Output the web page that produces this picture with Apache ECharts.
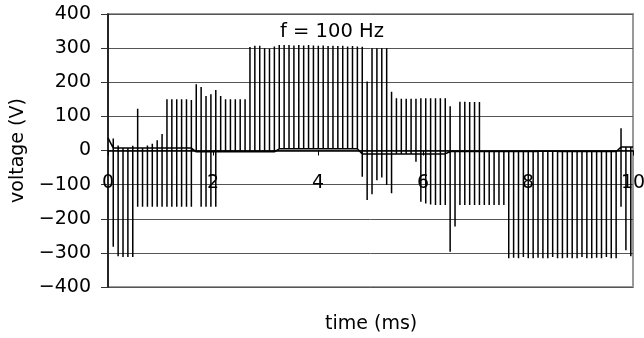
<!DOCTYPE html>
<html>
<head>
<meta charset="utf-8">
<script src="https://cdn.jsdelivr.net/npm/echarts@6/dist/echarts.min.js"></script>
<style>
  html, body { margin: 0; padding: 0; background: #ffffff; }
  #chart { width: 644px; height: 338px; }
</style>
</head>
<body>
<div id="chart"></div>
<script>
// switching pulses (ms / V)
const firstPulse = 0.1;
const pulseStep = 0.093;
const startLevel = 37;

const hiPeaks = [
  35, 15, 12, 10, 14, 122, 12, 15, 20, 30,
  48, 150, 150, 150, 150, 150, 148, 194, 186, 160,
  165, 177, 160, 150, 150, 150, 150, 150, 303, 307,
  307, 300, 298, 305, 309, 309, 309, 308, 309, 308,
  309, 308, 307, 308, 306, 307, 306, 307, 305, 306,
  305, 304, 202, 300, 300, 300, 300, 172, 153, 152,
  152, 152, 152, 153, 153, 153, 153, 153, 153, 130,
  0, 143, 143, 142, 142, 142, 0, 0, 0, 0,
  0, 0, 0, 0, 0, 0, 0, 0, 0, 0,
  0, 0, 0, 0, 0, 0, 0, 0, 0, 0,
  0, 0, 0, 0, 65, 0, 10
];

const loPeaks = [
  -282, -310, -312, -312, -312, -165, -165, -165, -165, -165,
  -165, -165, -165, -165, -165, -165, -165, 0, -165, -165,
  -165, -165, 0, 0, 0, 0, 0, 0, 0, 0,
  0, 0, 0, 0, 0, 0, 0, 0, 0, 0,
  0, 0, 0, 0, 0, 0, 0, 0, 0, 0,
  0, -77, -145, -128, -87, -79, -101, -125, 0, 0,
  0, 0, -33, -150, -155, -158, -160, -160, -160, -297,
  -223, -160, -160, -160, -160, -160, -160, -160, -160, -160,
  -160, -316, -314, -316, -312, -316, -316, -314, -316, -316,
  -312, -316, -316, -314, -316, -316, -312, -316, -316, -314,
  -316, -312, -316, -316, -165, -292, -310
];

const baseLevels = [
  7, 7, 7, 7, 7, 7, 7, 7, 7, 7,
  7, 7, 7, 7, 7, 7, 7, -4, -4, -4,
  -4, -4, -4, -4, -4, -4, -4, -4, -4, -4,
  -4, -4, -4, -4, 5, 5, 5, 5, 5, 5,
  5, 5, 5, 5, 5, 5, 5, 5, 5, 5,
  5, -10, -10, -10, -10, -10, -10, -10, -10, -10,
  -10, -10, -10, -10, -10, -10, -10, -10, -10, -3,
  -3, -3, -3, -3, -3, -3, -3, -3, -3, -3,
  -3, -3, -3, -3, -3, -3, -3, -2, -2, -2,
  -2, -2, -3, -3, -3, -3, -3, -3, -3, -3,
  -3, -3, -3, -3, 10, 10, 10
];

const xTicks = { min: 0, max: 10, step: 2 };
const yTicks = { min: -400, max: 400, step: 100 };

const trace = [[0, startLevel]];
hiPeaks.forEach((hi, k) => {
  const t = firstPulse + k * pulseStep;
  const base = baseLevels[k];
  trace.push([t, base]);
  if (hi) trace.push([t, hi]);
  if (loPeaks[k]) trace.push([t, loPeaks[k]]);
  trace.push([t, base]);
});
trace.push([xTicks.max, baseLevels[baseLevels.length - 1]]);

const font = "DejaVu Sans";
const gridTop = 14;
const gridBottom = 51;
const plotHeight = 338 - gridTop - gridBottom;
const chart = echarts.init(document.getElementById("chart"));
const options = {
  animation: false,
  title: {
    text: "f = 100 Hz",
    left: 275,
    top: 17,
    textStyle: { fontFamily: font, fontSize: 19.5, fontWeight: "normal", color: "#000" },
  },
  grid: {
    left: 108,
    right: 11,
    top: gridTop,
    bottom: gridBottom,
    outerBoundsMode: "none",
    containLabel: false,
    show: true,
    borderColor: "#999999",
    borderWidth: 2,
  },
  graphic: [
    {
      type: "text",
      left: 325,
      top: 315,
      style: { text: "time (ms)", font: "19px " + font, fill: "#000" },
    },
  ],
  xAxis: {
    type: "value",
    min: xTicks.min,
    max: xTicks.max,
    interval: xTicks.step,
    // axis drawn through the 0 V line
    offset: -plotHeight * (0 - yTicks.min) / (yTicks.max - yTicks.min),
    axisLine: { onZero: false, lineStyle: { color: "#000", width: 1.5 } },
    axisTick: { length: 5, lineStyle: { color: "#000" } },
    axisLabel: { margin: 23, fontFamily: font, fontSize: 19, color: "#000", showMinLabel: true, showMaxLabel: true },
    splitLine: { show: false },
    z: 1,
  },
  yAxis: {
    type: "value",
    min: yTicks.min,
    max: yTicks.max,
    interval: yTicks.step,
    name: "voltage (V)",
    nameLocation: "middle",
    nameGap: 75,
    nameTextStyle: { fontFamily: font, fontSize: 19, color: "#000" },
    axisLine: { show: true, onZero: false, lineStyle: { color: "#000", width: 1.5 } },
    axisTick: { show: true, length: 7, lineStyle: { color: "#333" } },
    axisLabel: {
      margin: 17,
      fontFamily: font,
      fontSize: 19,
      color: "#000",
      showMinLabel: true,
      showMaxLabel: true,
      formatter: (v) => String(v).replace("-", "\u2212"),
    },
    splitLine: { lineStyle: { color: "#555555", width: 1 } },
  },
  series: [
    {
      type: "line",
      data: trace,
      showSymbol: false,
      sampling: "none",
      lineStyle: { color: "#000", width: 1.5 },
      z: 3,
    },
  ],
};
chart.setOption(options);
</script>
</body>
</html>
